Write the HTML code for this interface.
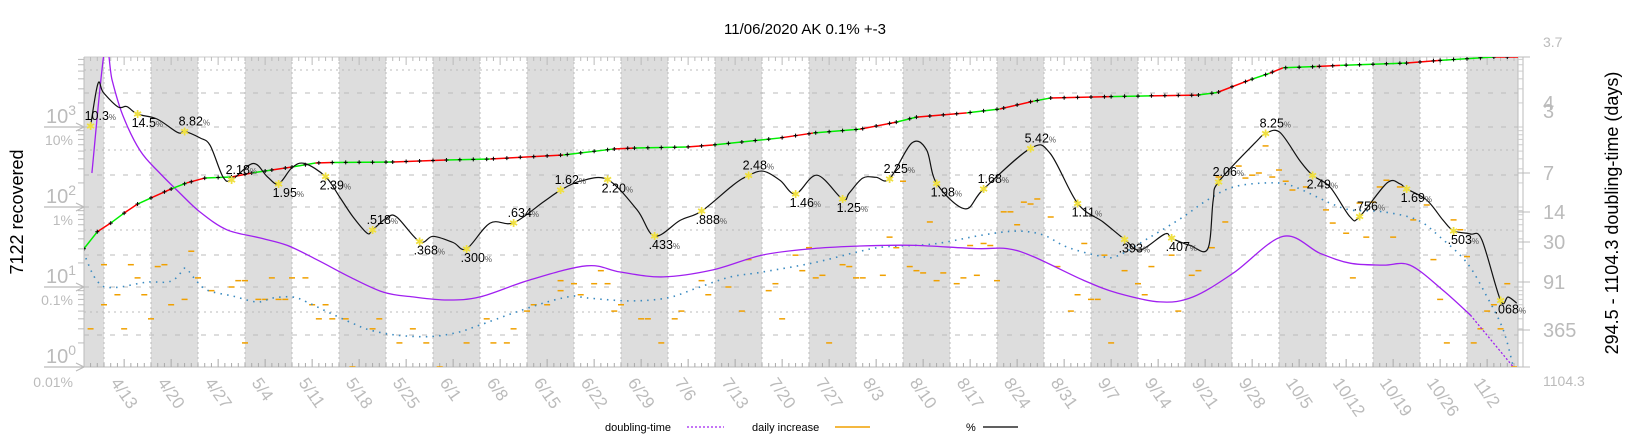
<!DOCTYPE html>
<html><head><meta charset="utf-8"><style>
body{margin:0;background:#fff}
svg{display:block;font-family:"Liberation Sans",sans-serif}
</style></head><body>
<svg id="c" width="1640" height="440" viewBox="0 0 1640 440">
<defs><clipPath id="pc"><rect x="84" y="57" width="1434" height="310"/></clipPath></defs>
<text x="805" y="34" text-anchor="middle" font-size="15" fill="#000">11/06/2020 AK 0.1% +-3</text>
<text transform="translate(23,212) rotate(-90)" text-anchor="middle" font-size="18" fill="#000">7122 recovered</text>
<text transform="translate(1618,213) rotate(-90)" text-anchor="middle" font-size="18" fill="#000">294.5 - 1104.3 doubling-time (days)</text>
<g id="bands"></g>
<g id="grid"></g>
<g id="axes"></g>
<g id="series" clip-path="url(#pc)"></g>
<g id="labels"></g>
<g font-size="11" fill="#000">
<text x="605" y="431">doubling-time</text>
<line x1="687" y1="427" x2="724" y2="427" stroke="#a020f0" stroke-width="1.3" stroke-dasharray="2 2"/>
<text x="752" y="431">daily increase</text>
<line x1="835" y1="427" x2="870" y2="427" stroke="#f0a000" stroke-width="1.5"/>
<text x="966" y="431">%</text>
<line x1="983" y1="427" x2="1018" y2="427" stroke="#000" stroke-width="1.2"/>
</g>
</svg>
<script>
const dateLabels=['4/13','4/20','4/27','5/4','5/11','5/18','5/25','6/1','6/8','6/15','6/22','6/29','7/6','7/13','7/20','7/27','8/3','8/10','8/17','8/24','8/31','9/7','9/14','9/21','9/28','10/5','10/12','10/19','10/26','11/2'];
const pctDays=[-2,-0.9,-0.1,2.1,3.4,5,7.9,11,12,14.3,15.8,17.7,19,22.2,24.3,26,28,29.9,33,35.1,37.1,39.2,40,42.1,43.6,47,49,52,54,57.5,61,65.4,68,70.9,75,79.4,82,85.8,89,93.7,96,98.2,100.7,103,106.2,110,111,113,115,117,120.3,122.5,124,128.2,131,138,140.9,145,148.8,152,154.3,158,159,161.8,164.4,165.2,166,171.4,173,175.1,178.1,180,182.6,185.6,187,191.1,193,194,197,199.4,201,203.5,205.2,208,209.1,210.4];
const pctVals=[10.3,35,27,17.8,18,14.5,12.6,8.5,8.82,7.3,5.9,2.4,2.18,3.5,2.4,1.95,3.1,3.5,2.39,1.33,0.75,0.47,0.518,0.73,0.75,0.368,0.43,0.36,0.300,0.63,0.634,1.15,1.62,2.1,2.20,0.92,0.433,0.68,0.888,1.88,2.48,2.8,2.15,1.46,2.5,1.25,1.5,2.3,2.35,2.25,6.3,5.2,1.98,0.95,1.68,5.42,4.7,1.11,0.65,0.393,0.29,0.46,0.407,0.33,0.3,1.22,2.06,6.3,8.25,8.6,3.8,2.49,1.78,0.75,0.756,2.0,1.95,1.69,1.22,0.69,0.503,0.46,0.39,0.068,0.075,0.063];
const markDays=[-2,5,12,19,26,33,40,47,54,61,68,75,82,89,96,103,110,117,124,131,138,145,152,159,166,173,180,187,194,201,208];
const markVals=[10.3,14.5,8.82,2.18,1.95,2.39,0.518,0.368,0.300,0.634,1.62,2.20,0.433,0.888,2.48,1.46,1.25,2.25,1.98,1.68,5.42,1.11,0.393,0.407,2.06,8.25,2.49,0.756,1.69,0.503,0.068];
const markPos=['u','d','u','u','d','d','u','d','d','u','u','d','d','d','u','d','d','u','d','u','u','d','d','d','u','u','d','u','d','d','d'];
const cumDays=[-3,-1,1,3,5,7,10,12.3,15,19,22,25,28,31.5,34,43,51,57.5,68.4,75.8,78.8,86.8,90.7,100.7,105.6,112.6,118,121,128.5,133.4,138.4,140.9,149.8,155.8,162.8,165.8,170.7,173.6,175.6,180.6,184.1,194,199,207,211];
const cumVals=[30,49,63,84,109,130,168,200,230,237,266,290,316,355,360,365,387,398,447,530,545,562,596,730,840,940,1150,1330,1500,1680,2100,2300,2400,2450,2500,2700,3890,4700,5500,5700,5900,6300,6800,7500,7500];
const dtDays=[-1.8,0.15,1.2,2.8,5.4,8.3,11.3,14.3,18.3,23.2,27.3,31.7,36.6,41.6,46,51.1,56,63.4,71.9,76.9,83.3,90.7,98.1,105.6,112.6,116,121,130,134.5,138.4,145.8,150.9,157.3,162.2,168.2,175.6,181.1,185.6,190.5,194.5,199.4,203.5,209.9];
const dtVals=[7,3.5,4.2,5.1,6.2,7,10,14,22,27,33,49,79,122,140,153,140,86,58,69,79,65,43,36,33.5,33,33,36,36,45,86,125,162,140,71,26,41,54,57,57,115,237,1104];
const blueDays=[-2.7,-2.1,-1.6,-0.9,0.15,2.4,6.4,9.4,10.9,12.1,13.3,15.3,19.2,22.8,25.2,28.1,30.2,33.7,37.1,39.6,43.6,48.6,52.6,56,60.9,66,69.9,71.9,78.3,83.9,88.3,93.2,98.1,105.6,112.2,116,123.5,130.9,136,139.9,143.4,148.3,150.9,155.8,160.7,164.3,168.2,173.2,176.6,180.7,182.6,185.6,190.5,195.6,199,203,206,208.4,209.9];
const blueVals=[23,17.3,14.1,11.5,10,10,11.5,11.5,13.3,17.3,13.3,9.2,7.7,6.5,7.3,7.5,6.5,4.7,3.5,2.9,2.5,2.4,2.7,3.35,4.7,6.5,7.7,7.3,6.7,7.3,9.7,13.3,15.4,20,27.4,31.6,34.5,44.7,50,44.7,31.6,24.4,24.4,42,75,122,178,200,188,133,112,92,87,69,42,20,7.5,2.9,1];
const incDays=[-2,0,0,2,3,4,5,6,7,8,9,10,12,13,14,16,19,20,21,21,23,24,25,26,27,28,30,31,32,33,34,36,37,40,41,44,46,48,50,54,57,58,60,61,63,64,66,68,68,70,71,73,74,75,76,77,80,81,83,85,86,89,90,93,95,96,99,100,101,103,104,105,106,107,108,110,111,112,113,116,117,118,119,120,121,122,123,124,125,127,128,129,130,131,132,133,134,135,136,137,138,139,141,142,144,145,146,147,148,149,150,152,154,155,156,159,160,162,163,165,166,167,169,170,171,172,173,174,175,176,177,179,182,183,185,186,187,188,189,190,191,192,193,195,197,198,199,200,201,202,203,204,205,206,207,208,209,210];
const incVals=[3,19,6,8,3,19,13,8,4,18,19,6,7,28,13,9,10,12,12,2,7,7,13,7,7,13,13,6,4,6,4,4,1,3,4,2,3,2,1,2,4,2,2,3,5,6,6,12,9,11,8,11,16,11,5,6,4,4,2,4,5,12,8,10,5,22,9,11,4,25,16,31,13,14,2,19,18,13,13,14,42,31,210,18,16,15,65,12,15,11,13,33,14,35,33,12,87,87,60,115,109,126,75,18,5,8,35,7,7,25,2,16,11,8,18,25,5,14,16,31,237,65,325,230,250,266,580,237,290,210,163,178,92,63,47,13,112,42,115,178,216,42,178,69,106,22,7,2,69,52,24,2,3,5,6,3,11,1];

const NS='http://www.w3.org/2000/svg';
const X=d=>104+d*47/7;
const YC=v=>367-80*Math.log10(v);
const YP=p=>367-80*(Math.log10(p)+2);
const rT=[3.7,7,14,30,91,365,1104.3], rY=[57,173,212,242,282,330,367];
function YR(T){const l=Math.log10(T);
 if(l<=Math.log10(rT[0]))return rY[0]-(Math.log10(rT[0])-l)*400;
 for(let i=0;i<rT.length-1;i++){const a=Math.log10(rT[i]),b=Math.log10(rT[i+1]);
  if(l<=b)return rY[i]+(l-a)/(b-a)*(rY[i+1]-rY[i]);}
 return rY[rY.length-1];}
function mk(tag,attrs,parent){const e=document.createElementNS(NS,tag);for(const k in attrs)e.setAttribute(k,attrs[k]);parent.appendChild(e);return e;}
function smooth(pts){let d='M'+pts[0][0].toFixed(1)+','+pts[0][1].toFixed(1);
 for(let i=0;i<pts.length-1;i++){const p0=pts[i-1]||pts[i],p1=pts[i],p2=pts[i+1],p3=pts[i+2]||p2;
  const c1=[p1[0]+(p2[0]-p0[0])/6,p1[1]+(p2[1]-p0[1])/6],c2=[p2[0]-(p3[0]-p1[0])/6,p2[1]-(p3[1]-p1[1])/6];
  d+=' C'+c1[0].toFixed(1)+','+c1[1].toFixed(1)+' '+c2[0].toFixed(1)+','+c2[1].toFixed(1)+' '+p2[0].toFixed(1)+','+p2[1].toFixed(1);}
 return d;}

const bands=document.getElementById('bands'),grid=document.getElementById('grid'),axes=document.getElementById('axes'),ser=document.getElementById('series'),lab=document.getElementById('labels');
let b0=mk('rect',{x:84,y:57,width:X(0)-84,height:310,fill:'#dddddd'},bands);


for(let k=1;k<30;k+=2){const x1=X(7*k),x2=Math.min(k===29?1518:X(7*k+7),1518);
 const r=mk('rect',{x:x1,y:57,width:x2-x1,height:310,fill:'#dddddd'},bands);
 
 }
[70,93,127,150,175,207,230,255,287,312,335].forEach(y=>{const l=mk('line',{x1:84,x2:1518,y1:y,y2:y,stroke:'#bbb','stroke-width':1,'stroke-dasharray':(y%2?'5 8':'2 4')},grid);
 
 });
for(let k=0;k<30;k++){const x=X(7*k);const l=mk('line',{x1:x,x2:x,y1:57,y2:367,stroke:'#bbb','stroke-width':1,'stroke-dasharray':'2 3'},grid);
 
 }
mk('line',{x1:84,y1:57,x2:1523,y2:57,stroke:'#ccc'},axes);
mk('line',{x1:84,y1:367,x2:1523,y2:367,stroke:'#bbb'},axes);
mk('line',{x1:84,y1:57,x2:84,y2:367,stroke:'#bbb'},axes);
mk('line',{x1:1518,y1:57,x2:1518,y2:367,stroke:'#bbb'},axes);
mk('line',{x1:1523,y1:57,x2:1523,y2:367,stroke:'#bbb'},axes);
for(let d=-2;d<=210;d++){const x=X(d),len=(d%7===3)?8:4;
 mk('line',{x1:x,x2:x,y1:367,y2:367-len,stroke:'#aaa'},axes);
 mk('line',{x1:x,x2:x,y1:57,y2:57+len,stroke:'#bbb'},axes);}
for(let e=0;e<4;e++)for(let m=1;m<10;m++){const y=YC(m*Math.pow(10,e));if(y<57)continue;
 mk('line',{x1:m===1?80:78,x2:84,y1:y,y2:y,stroke:'#bbb'},axes);
 mk('line',{x1:1518,x2:1523,y1:y,y2:y,stroke:'#ccc'},axes);}
for(let e=0;e<4;e++){const y=YC(Math.pow(10,e));
 const t=mk('text',{x:46,y:y-4,'font-size':20,fill:'#bbb'},axes);t.textContent='10';
 const s=mk('tspan',{dy:-8,'font-size':14},t);s.textContent=String(e);
 
 
 mk('line',{x1:44,x2:84,y1:y,y2:y,stroke:'#bbb','stroke-width':1.2},axes);
 mk('polyline',{points:'76,'+(y-4)+' 84,'+y+' 76,'+(y+4),fill:'none',stroke:'#bbb','stroke-width':1.2},axes);
 const pl=['0.01%','0.1%','1%','10%'][e];
 const pt=mk('text',{x:73,y:e===0?y+20:y+18,'text-anchor':'end','font-size':14,fill:'#bbb'},axes);pt.textContent=pl;
 
 }
[['3.7',47,14],['4',110,20],['3',118,20],['7',180,20],['14',219,20],['30',249,20],['91',289,20],['365',337,20],['1104.3',386,14]].forEach(a=>{
 const t=mk('text',{x:1543,y:a[1],'font-size':a[2],fill:'#bbb'},axes);t.textContent=a[0];
 
 });
rT.forEach(T=>mk('line',{x1:1518,x2:1530,y1:YR(T),y2:YR(T),stroke:'#bbb'},axes));
dateLabels.forEach((s,i)=>{const x=X(7*i)+16;
 const t=mk('text',{transform:'translate('+x+',376) rotate(55)','font-size':17,fill:'#bbb','dominant-baseline':'hanging'},axes);t.textContent=s;
 
 });
incDays.forEach((d,i)=>{const y=YC(incVals[i]);
 const l=mk('line',{x1:X(d)-3,x2:X(d)+3,y1:y,y2:y,stroke:'#f0a000','stroke-width':1.5},ser);
 
 });
const bp=mk('path',{d:smooth(blueDays.map((d,i)=>[X(d),YC(blueVals[i])])),fill:'none',stroke:'#3a8ac0','stroke-width':1.6,'stroke-dasharray':'1.5 5.2'},ser);


const split=dtDays.findIndex(d=>d>=203.5);
const pp=mk('path',{d:smooth(dtDays.slice(0,split+1).map((d,i)=>[X(d),YR(dtVals[i])])),fill:'none',stroke:'#a020f0','stroke-width':1.3},ser);


const pd=mk('path',{d:smooth(dtDays.slice(split).map((d,i)=>[X(d),YR(dtVals[split+i])])),fill:'none',stroke:'#a020f0','stroke-width':1.3,'stroke-dasharray':'2 2'},ser);


// cumulative: sloped segments between samples, daily + ticks along them
for(let i=0;i<cumDays.length-1;i++){const x1=X(cumDays[i]),x2=X(cumDays[i+1]),y1=YC(cumVals[i]),y2=YC(cumVals[i+1]);
 const s=mk('line',{x1:x1,x2:x2,y1:y1,y2:y2,stroke:(i%2?'#ff0000':'#00ee00'),'stroke-width':1.5},ser);
 
 
 for(let d=Math.ceil(cumDays[i]);d<cumDays[i+1];d+=2){const t=(d-cumDays[i])/(cumDays[i+1]-cumDays[i]);const x=X(d),y=y1+(y2-y1)*t;
  const p=mk('path',{d:'M'+(x-2)+','+y.toFixed(1)+'h4M'+x+','+(y-2).toFixed(1)+'v4',stroke:'#000','stroke-width':1},ser);
  
  }}
const bk=mk('path',{d:smooth(pctDays.map((d,i)=>[X(d),YP(pctVals[i])])),fill:'none',stroke:'#111','stroke-width':1.2},ser);


function fmt(p){if(p>=10)return p.toFixed(1);if(p>=1)return p.toFixed(2);return p.toFixed(3).replace(/^0/,'');}
markDays.forEach((d,i)=>{const x=X(d),y=YP(markVals[i]);
 const m=mk('text',{x:x,y:y+4,'text-anchor':'middle','font-size':11,fill:'#f0e040'},lab);m.textContent='✱';
 
 
 const t=mk('text',{x:x-6,y:markPos[i]==='u'?y-6:y+13,'font-size':12.5,fill:'#000'},lab);t.textContent=fmt(markVals[i]);
 const s=mk('tspan',{'font-size':8,fill:'#555'},t);s.textContent='%';
 
 });
</script>
</body></html>
